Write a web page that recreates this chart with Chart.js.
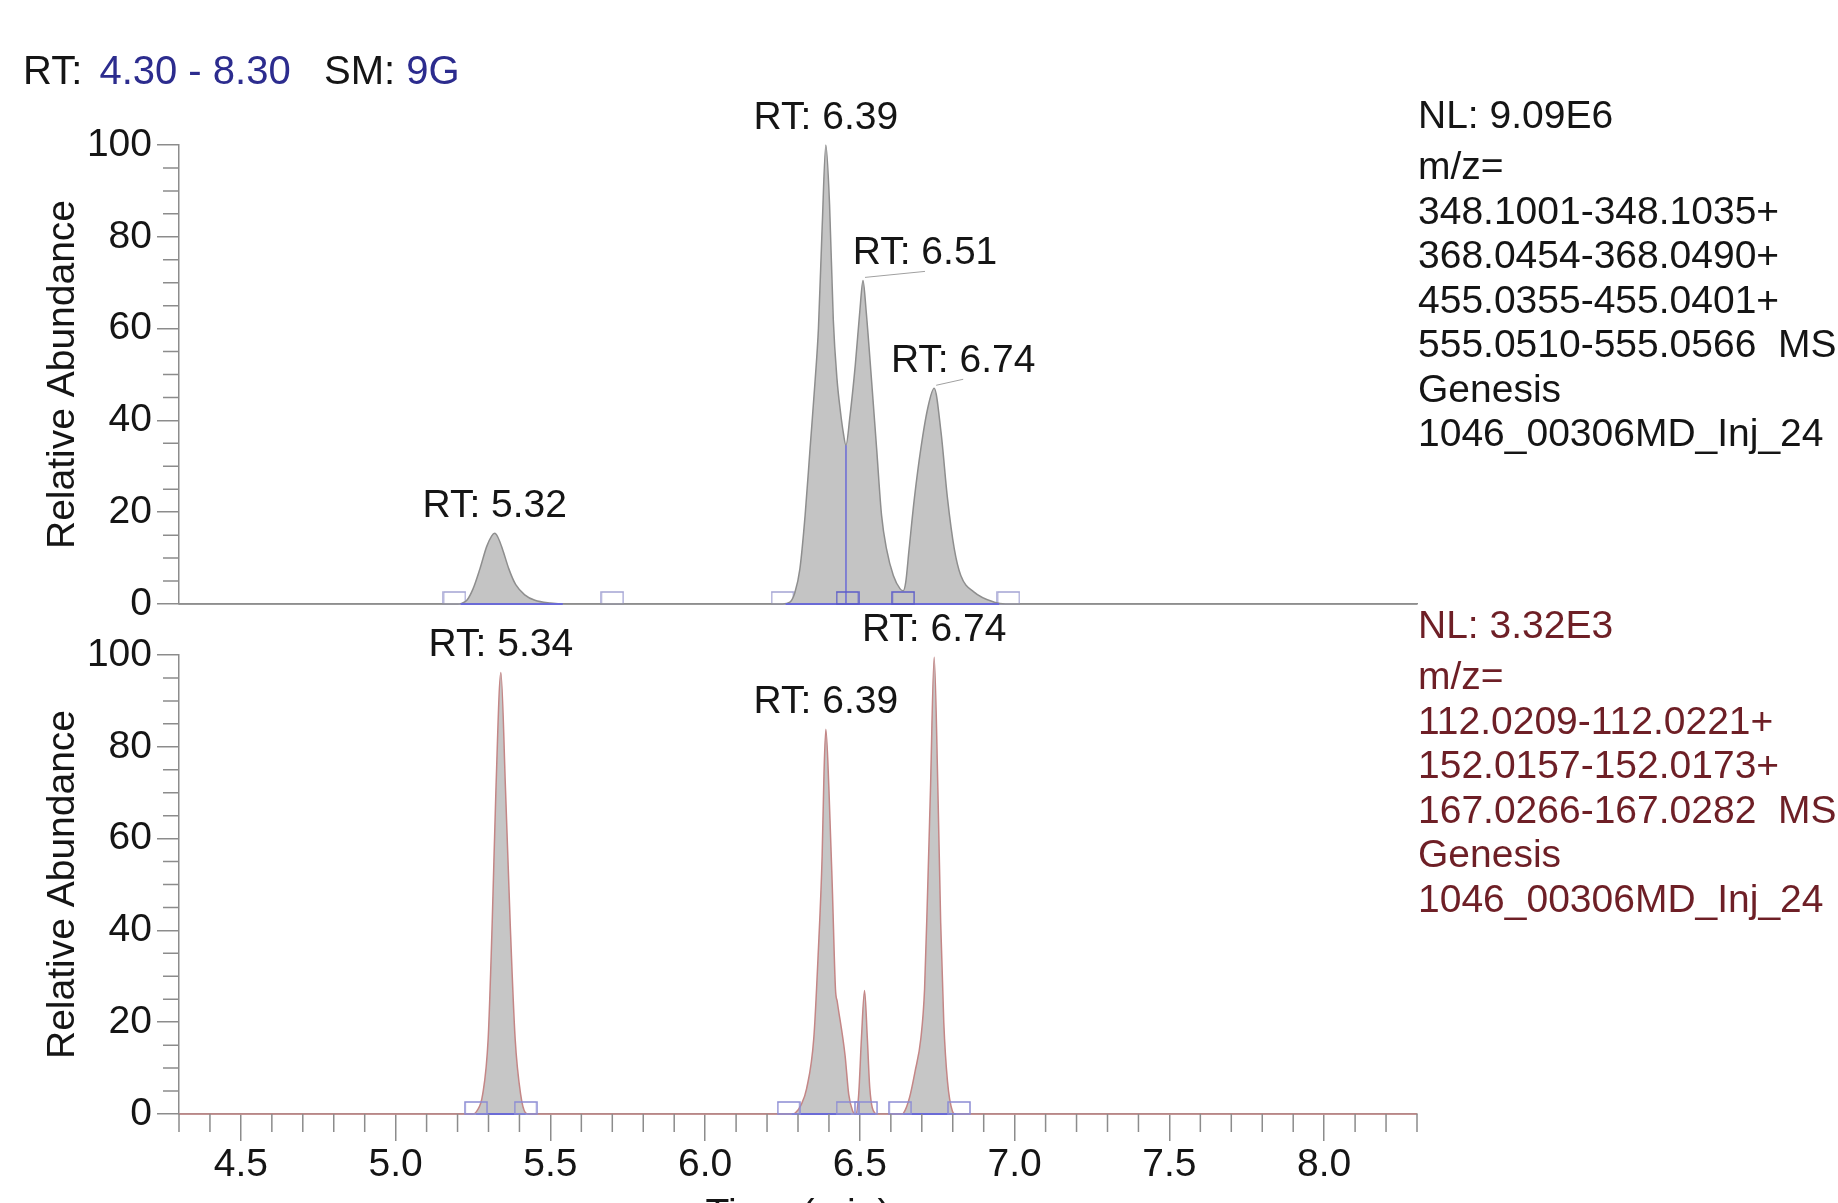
<!DOCTYPE html>
<html lang="en">
<head>
<meta charset="UTF-8">
<title>XIC - RT 4.30 - 8.30</title>
<script src="https://cdn.jsdelivr.net/npm/chart.js"></script>
<style>
  body { margin: 0; width: 1838px; height: 1203px; overflow: hidden; background: #fff; font-family: "Liberation Sans", Arial, sans-serif; }
  canvas { position: absolute; left: 0; z-index: 1; }
  #topChart { top: 2px; }
  #botChart { top: 562px; }
  .txt { position: absolute; font-size: 39px; z-index: 2; color: #151515; }
  #header { left: 23px; top: 47px; line-height: 46px; font-size: 40px; white-space: pre; }
  #header span { color: #2c2c8e; }
  #header span.first { margin-left: 6px; }
  .info div { line-height: 44.5px; white-space: pre; }
  .info div:first-child { margin-bottom: 7px; }
  #infoTop { left: 1418px; top: 92.75px; }
  #infoBot { left: 1418px; top: 602.75px; color: #6e1f26; }
</style>
</head>
<body>
<div id="header" class="txt">RT: <span class="first">4.30 - 8.30</span>   SM: <span>9G</span></div>

<canvas id="topChart" width="1838" height="620"></canvas>
<canvas id="botChart" width="1838" height="677"></canvas>

<div id="infoTop" class="txt info">
  <div>NL: 9.09E6</div>
  <div>m/z=</div>
  <div>348.1001-348.1035+</div>
  <div>368.0454-368.0490+</div>
  <div>455.0355-455.0401+</div>
  <div>555.0510-555.0566  MS</div>
  <div>Genesis</div>
  <div>1046_00306MD_Inj_24</div>
</div>
<div id="infoBot" class="txt info">
  <div>NL: 3.32E3</div>
  <div>m/z=</div>
  <div>112.0209-112.0221+</div>
  <div>152.0157-152.0173+</div>
  <div>167.0266-167.0282  MS</div>
  <div>Genesis</div>
  <div>1046_00306MD_Inj_24</div>
</div>

<script>
// upper trace (m/z 348/368/455/555), time in min, relative abundance in %
const topTime = [4.30, 5.20, 5.215, 5.23, 5.25, 5.272, 5.294, 5.31, 5.32, 5.33, 5.345, 5.366, 5.388, 5.417, 5.45, 5.50, 5.55,
  6.25, 6.274, 6.290, 6.306, 6.323, 6.339, 6.355, 6.366, 6.378, 6.39, 6.402, 6.414, 6.426, 6.437, 6.446, 6.455,
  6.468, 6.485, 6.50, 6.51, 6.52, 6.538, 6.554, 6.570, 6.586, 6.608, 6.630, 6.640,
  6.648, 6.659, 6.676, 6.697, 6.719, 6.74, 6.762, 6.783, 6.805, 6.826, 6.869, 6.934, 6.97, 8.30];
const topAbund = [0, 0, 0.2, 0.8, 3.3, 7.6, 12.5, 14.8, 15.4, 14.6, 12, 7.6, 4.2, 2, 0.8, 0.2, 0,
  0, 0.4, 2.5, 7.6, 19.3, 33.9, 48.4, 60, 82, 100, 87, 62, 49, 42, 37.5, 34.6,
  41, 52, 64, 70.5, 64, 48.4, 33.9, 19.3, 12, 6.2, 3.3, 2.9,
  4.7, 12, 23, 33.9, 42.6, 47, 37.5, 23, 12, 6.2, 2.6, 0.4, 0, 0];

// lower trace (m/z 112/152/167)
const botTime = [4.30, 5.25, 5.262, 5.281, 5.299, 5.312, 5.324, 5.34, 5.355, 5.37, 5.386, 5.404, 5.419, 5.43,
  6.28, 6.291, 6.31, 6.328, 6.351, 6.365, 6.378, 6.384, 6.39, 6.40, 6.411, 6.421, 6.427, 6.452, 6.464, 6.477, 6.484,
  6.486, 6.496, 6.505, 6.515, 6.524, 6.532, 6.548, 6.556,
  6.635, 6.641, 6.66, 6.678, 6.697, 6.709, 6.719, 6.728, 6.74, 6.752, 6.761, 6.771, 6.783, 6.799, 6.808, 8.30];
const botAbund = [0, 0, 0.6, 4.2, 16.5, 41.7, 70.6, 96.2, 70.6, 41.7, 16.5, 4.2, 0.3, 0,
  0, 0.2, 2, 5.6, 16.5, 34.5, 56.2, 74.2, 83.8, 70.6, 49, 27.3, 24.4, 12.8, 4.2, 0.6, 0,
  0, 4.2, 16.5, 26.9, 16.5, 5.6, 0.2, 0,
  0, 0.2, 3.5, 9.2, 16.5, 27.3, 49, 70.6, 99.5, 70.6, 41.7, 20, 7.1, 0.6, 0, 0];

// labelled peaks
const topPeakRT = [5.32, 6.39, 6.51, 6.74];
const botPeakRT = [5.34, 6.39, 6.74];

// integration boundaries (peak start/end markers and baselines)
const topMarkOuter = [5.19, 5.70, 6.25, 6.98];
const topMarkInner = [6.46, 6.64];
const topBaseFrom = [5.21, 6.26];
const topBaseTo = [5.54, 6.95];
const topSplitRT = 6.455;
const botMarks = [5.26, 5.42, 6.27, 6.46, 6.52, 6.63, 6.82];
const botBaseFrom = [5.26, 6.28, 6.49, 6.64];
const botBaseTo = [5.42, 6.47, 6.55, 6.81];

// axes
const yTickLabels = [0, 20, 40, 60, 80, 100];
const xTickLabels = [4.5, 5.0, 5.5, 6.0, 6.5, 7.0, 7.5, 8.0];
const xRange = [4.3, 8.3];

const FONT = '"Liberation Sans", Arial, sans-serif';
const axisColor = '#8c8c8c';
const textColor = '#151515';
const blue = '#6b6bd6';

function xy(ts, vs) { return ts.map((t, i) => ({ x: t, y: vs[i] })); }
function segs(from, to) {
  const d = [];
  from.forEach((f, i) => { d.push({ x: f, y: 0 }, { x: to[i], y: 0 }, { x: to[i], y: null }); });
  return d;
}
function marks(ts) { return ts.map(t => ({ x: t, y: 0 })); }

// hollow box sitting on the baseline (lower half of the image is empty)
function boxMark(w, h, stroke, fill) {
  const c = document.createElement('canvas');
  c.width = w + 2; c.height = 2 * h + 2;
  const g = c.getContext('2d');
  if (fill) { g.fillStyle = fill; g.fillRect(1, 1, w, h); }
  g.strokeStyle = stroke; g.lineWidth = 1.5;
  g.strokeRect(1, 1, w, h);
  return c;
}

const minorTicks = {
  id: 'minorTicks',
  afterDraw(chart, args, opts) {
    const { ctx, chartArea, scales: { x, y } } = chart;
    ctx.save();
    ctx.strokeStyle = axisColor;
    ctx.lineWidth = 1.5;
    ctx.beginPath();
    for (let v = 0; v <= 100; v += 5) {
      if (v % 20 === 0) continue;
      const py = y.getPixelForValue(v);
      ctx.moveTo(chartArea.left - 16, py); ctx.lineTo(chartArea.left, py);
    }
    if (opts.x) {
      for (let i = 43; i <= 83; i++) {
        if (i % 5 === 0) continue;
        const px = x.getPixelForValue(i / 10);
        ctx.moveTo(px, chartArea.bottom); ctx.lineTo(px, chartArea.bottom + 18);
      }
    }
    ctx.stroke();
    ctx.restore();
  }
};

const peakLabels = {
  id: 'peakLabels',
  afterDatasetsDraw(chart, args, opts) {
    const { ctx, scales: { x, y } } = chart;
    ctx.save();
    ctx.font = '39px ' + FONT;
    ctx.fillStyle = textColor;
    ctx.textAlign = 'center';
    ctx.textBaseline = 'middle';
    opts.rts.forEach((rt, i) => {
      const h = opts.abund[opts.time.indexOf(rt)];
      const px = x.getPixelForValue(rt);
      const py = y.getPixelForValue(h);
      const dx = opts.shifts[i];
      if (dx) {
        ctx.strokeStyle = '#a0a0a0';
        ctx.lineWidth = 1;
        ctx.beginPath();
        ctx.moveTo(px + 2, py - 3);
        ctx.lineTo(px + dx, py - 9);
        ctx.stroke();
      }
      ctx.fillText('RT: ' + rt.toFixed(2), px + dx, py - 27);
    });
    ctx.restore();
  }
};

function yAxis() {
  return {
    min: 0, max: 100,
    afterBuildTicks: s => { s.ticks = yTickLabels.map(v => ({ value: v })); },
    // fixed axis width; no extra padding for the half labels at the ends
    afterFit: s => { s.width = 179; s.paddingTop = 0; s.paddingBottom = 0; },
    ticks: { color: textColor, font: { family: FONT, size: 39 }, padding: 5 },
    grid: { drawOnChartArea: false, tickLength: 22, color: axisColor, lineWidth: 1.5 },
    border: { display: true, color: axisColor, width: 1.5 },
    title: { display: true, text: 'Relative Abundance', color: textColor,
      font: { family: FONT, size: 39 }, padding: { top: 40, bottom: 0 } }
  };
}

function makeChart(id, datasets, padTop, xAxis, labelOpts, showMinorX) {
  return new Chart(document.getElementById(id), {
    type: 'line',
    data: { datasets: datasets },
    options: {
      responsive: false,
      animation: false,
      events: [],
      layout: { autoPadding: false, padding: { top: padTop, right: 421, bottom: 0, left: 0 } },
      plugins: {
        legend: { display: false },
        tooltip: { enabled: false },
        peakLabels: labelOpts,
        minorTicks: { x: showMinorX }
      },
      scales: { x: xAxis, y: yAxis() }
    },
    plugins: [minorTicks, peakLabels]
  });
}

const lineBase = { pointRadius: 0, cubicInterpolationMode: 'monotone', clip: false };

// top panel
makeChart('topChart', [
  Object.assign({ data: xy(topTime, topAbund), borderColor: '#8e8e8e', borderWidth: 1.5,
    backgroundColor: '#c4c4c4', fill: 'origin', order: 3 }, lineBase),
  { data: marks(topMarkOuter), showLine: false, pointStyle: boxMark(22, 12, '#a4a4d4', '#ffffff'),
    pointRadius: 12, order: 4, clip: false },
  Object.assign({ data: segs(topBaseFrom, topBaseTo), borderColor: blue, borderWidth: 2,
    spanGaps: false, fill: false, order: 2 }, lineBase),
  Object.assign({ data: [{ x: topSplitRT, y: 0 }, { x: topSplitRT, y: topAbund[topTime.indexOf(topSplitRT)] }],
    borderColor: blue, borderWidth: 1.5, fill: false, order: 1 }, lineBase),
  { data: marks(topMarkInner), showLine: false, pointStyle: boxMark(22, 12, '#5c5cc8', null),
    pointRadius: 12, order: 0, clip: false }
], 143, {
  type: 'linear', min: xRange[0], max: xRange[1],
  afterFit: s => { s.height = 18; },
  ticks: { display: false },
  grid: { display: false },
  border: { display: true, color: axisColor, width: 1.5 }
}, { rts: topPeakRT, time: topTime, abund: topAbund, shifts: [0, 0, 62, 29] }, false);

// bottom panel
makeChart('botChart', [
  Object.assign({ data: xy(botTime, botAbund), borderColor: '#c48686', borderWidth: 1.5,
    backgroundColor: '#c6c6c6', fill: 'origin', order: 3 }, lineBase),
  Object.assign({ data: segs(botBaseFrom, botBaseTo), borderColor: blue, borderWidth: 2,
    spanGaps: false, fill: false, order: 2 }, lineBase),
  { data: marks(botMarks), showLine: false, pointStyle: boxMark(22, 12, '#8c8cd4', null),
    pointRadius: 12, order: 0, clip: false }
], 93, {
  type: 'linear', min: xRange[0], max: xRange[1],
  afterBuildTicks: s => { s.ticks = xTickLabels.map(v => ({ value: v })); },
  afterFit: s => { s.height = 125; },
  ticks: { color: textColor, font: { family: FONT, size: 39 }, padding: 1, maxRotation: 0, autoSkip: false,
    callback: v => Number(v).toFixed(1) },
  grid: { drawOnChartArea: false, tickLength: 27, color: axisColor, lineWidth: 1.5 },
  border: { display: true, color: axisColor, width: 1.5 },
  title: { display: true, text: 'Time (min)', color: textColor, font: { family: FONT, size: 39 }, padding: 0 }
}, { rts: botPeakRT, time: botTime, abund: botAbund, shifts: [0, 0, 0] }, true);
</script>
</body>
</html>
